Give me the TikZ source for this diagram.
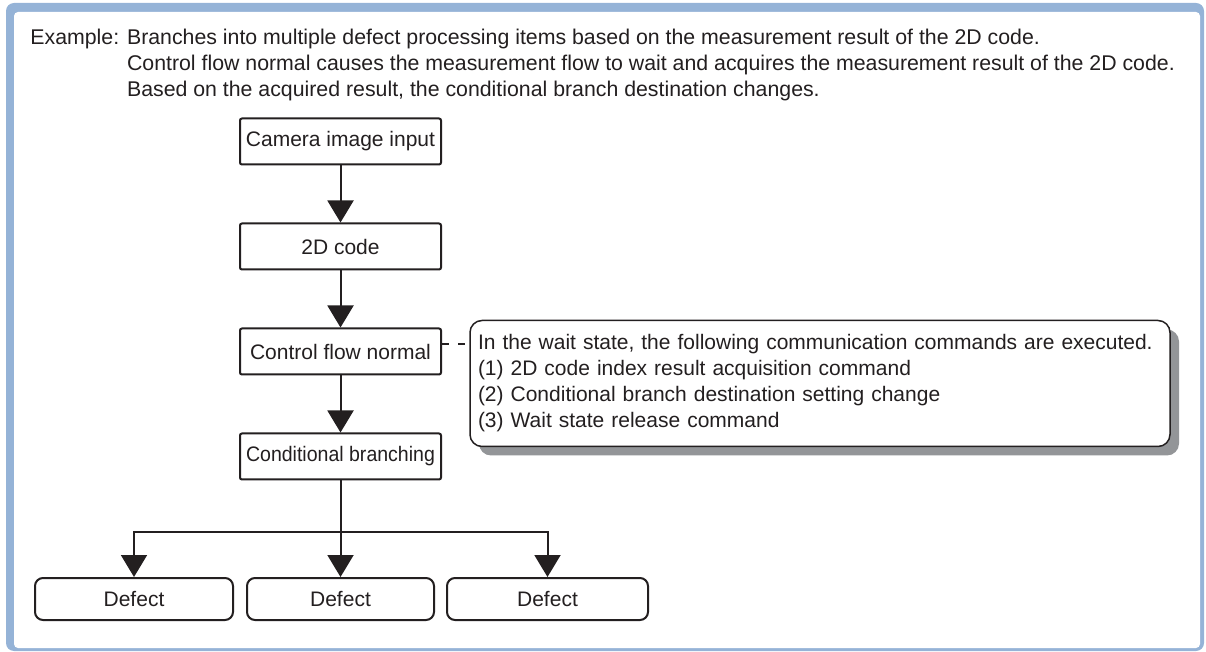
\documentclass[tikz,border=0pt]{standalone}
\usepackage{fontspec}
\setmainfont{Liberation Sans}
\usepackage{tikz}
\usetikzlibrary{arrows.meta,shadows}
\definecolor{framecol}{RGB}{149,179,215}
\definecolor{shadowcol}{RGB}{147,149,152}
\definecolor{inkcol}{RGB}{35,31,32}

\begin{document}
\begin{tikzpicture}[x=0.5pt, y=-0.5pt, font=\fontsize{10.5pt}{13pt}\selectfont, text=inkcol,
        box/.style={draw=inkcol, line width=1pt, rounded corners=1pt, minimum width=100.5pt, minimum height=23pt, inner sep=0pt},
        defect/.style={draw=inkcol, line width=1pt, rounded corners=4pt, minimum height=21pt, inner sep=0pt},
        arr/.style={draw=inkcol, line width=1pt, -{Triangle[length=11pt,width=13pt]}},
        note/.style={draw=inkcol, line width=0.75pt, fill=white, rounded corners=6pt, minimum width=350pt, minimum height=63pt,
            text width=342pt, inner xsep=4pt, align=left,
            drop shadow={shadow xshift=4.5pt, shadow yshift=-4.5pt, fill=shadowcol, opacity=1}},
        link/.style={draw=inkcol, line width=1pt, dash pattern=on 3.5pt off 4.5pt}]
        \useasboundingbox (0,0) rectangle (1206,652);
        \fill[framecol, rounded corners=4pt] (6,3) rectangle (1204,651);
        \fill[white, rounded corners=2pt] (14,12) rectangle (1200,648);
        \node[anchor=base west, inner sep=0pt, font=\fontsize{10.65pt}{13pt}\selectfont] (intro) at (30,45) {\begin{tabular}[t]{@{}l@{ }l@{}}
            Example: & Branches into multiple defect processing items based on the measurement result of the 2D code.\\
            & Control flow normal causes the measurement flow to wait and acquires the measurement result of the 2D code.\\
            & Based on the acquired result, the conditional branch destination changes.
        \end{tabular}};
        % main flow
        \node[box] (cam) at (340.5,141.5) {Camera image input};
        \node[box] (code) at (340.5,246.5) {2D code};
        \node[box] (ctrl) at (340.5,351.5) {Control flow normal};
        \node[box] (cond) at (340.5,456.5) {\scalebox{0.93}[1]{Conditional branching}};
        \draw[arr] (cam) -- (code);
        \draw[arr] (code) -- (ctrl);
        \draw[arr] (ctrl) -- (cond);
        % the three branch destinations
        \node[defect, minimum width=99pt] (defA) at (134,599) {Defect};
        \node[defect, minimum width=93.5pt] (defB) at (340.5,599) {Defect};
        \node[defect, minimum width=100.5pt] (defC) at (547.5,599) {Defect};
        \coordinate (split) at (340.5,532);
        \draw[arr] (cond) -- (defB);
        \draw[arr] (split) -| (defA);
        \draw[arr] (split) -| (defC);
        % note on the wait state
        \node[note] (memo) at (820,383.5) {In the wait state, the following communication commands are executed.\\
            (1) 2D code index result acquisition command\\
            (2) Conditional branch destination setting change\\
            (3) Wait state release command};
        \draw[link] ([yshift=3.5pt]ctrl.east) -- ([yshift=3.5pt]ctrl.east -| memo.west);
    \end{tikzpicture}
\end{document}
